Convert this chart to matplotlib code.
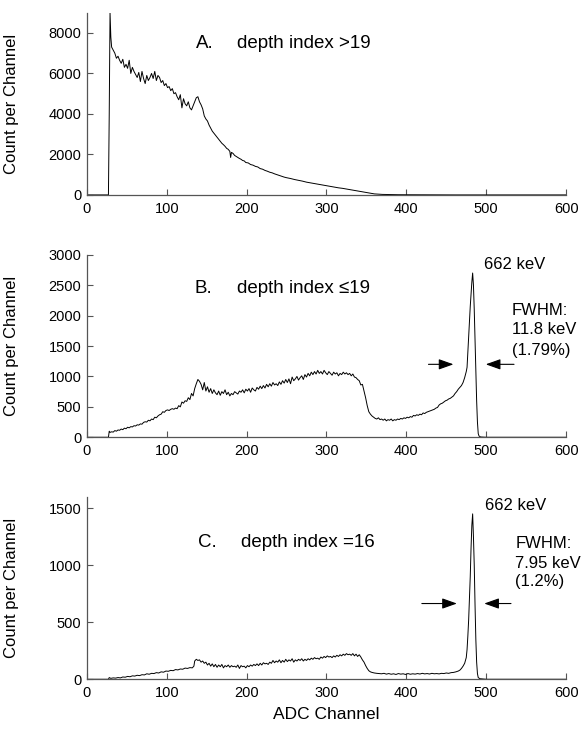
import matplotlib
matplotlib.use("Agg")
import matplotlib.pyplot as plt

plt.rcParams['font.family'] = ['Liberation Sans', 'DejaVu Sans']

# ---------------- data ----------------
ch_a = [0, 20, 27, 28, 29, 30, 31, 33, 35, 37, 39, 41, 43, 45, 47, 49, 51, 53, 55, 57, 59,
        61, 63, 65, 67, 69, 71, 73, 75, 77, 79, 81, 83, 85, 87, 89, 91, 93, 95, 97, 99,
        101, 103, 105, 107, 109, 111, 113, 115, 117, 119, 121, 123, 125, 127, 129, 131,
        133, 135, 137, 139, 141, 143, 145, 147, 149, 151, 153, 155, 157, 159, 161, 163,
        165, 167, 169, 171, 173, 175, 177, 179, 180, 181, 183, 185, 187, 189, 191, 193,
        195, 197, 199, 202, 205, 208, 211, 214, 217, 220, 223, 226, 229, 232, 235, 238,
        241, 244, 247, 250, 255, 260, 265, 270, 275, 280, 285, 290, 295, 300, 305, 310,
        315, 320, 325, 330, 335, 340, 345, 350, 355, 360, 365, 370, 380, 390, 400, 420,
        440, 460, 600]
cnt_a = [0, 0, 0, 4000, 9000, 7800, 7300, 7150, 7000, 6750, 6850, 6650, 6500, 6700, 6300,
         6450, 6250, 6650, 6000, 6300, 6100, 5950, 5800, 6050, 5600, 6100, 5750, 5500, 5900,
         5650, 5800, 6000, 5750, 6100, 5650, 5900, 5800, 5550, 5650, 5400, 5500, 5300, 5350,
         5150, 5250, 5000, 5050, 4850, 4700, 4950, 4300, 4750, 4500, 4400, 4600, 4300, 4200,
         4400, 4600, 4800, 4850, 4600, 4450, 4250, 3900, 3750, 3650, 3450, 3300, 3150, 3050,
         2950, 2850, 2750, 2650, 2550, 2480, 2400, 2300, 2250, 2150, 1850, 2100, 2050, 1950,
         1900, 1850, 1800, 1760, 1700, 1680, 1600, 1580, 1500, 1470, 1410, 1380, 1300, 1270,
         1210, 1170, 1120, 1090, 1040, 1000, 960, 920, 880, 850, 810, 760, 720, 680, 630,
         595, 555, 520, 490, 450, 420, 385, 350, 325, 290, 255, 220, 185, 150, 110, 75, 50,
         35, 25, 15, 10, 8, 5, 3, 0, 0]

ch_b = [0, 27, 28, 29, 31, 33, 35, 37, 39, 41, 43, 45, 47, 49, 51, 53, 55, 57, 59, 61, 63,
        65, 67, 69, 71, 73, 75, 77, 79, 81, 83, 85, 87, 89, 91, 93, 95, 97, 99, 101, 103,
        105, 107, 109, 111, 113, 115, 117, 119, 121, 123, 125, 127, 129, 131, 133, 135,
        137, 139, 141, 143, 145, 147, 149, 151, 153, 155, 157, 159, 161, 163, 165, 167,
        169, 171, 173, 175, 177, 179, 181, 183, 185, 187, 189, 191, 193, 195, 197, 199,
        201, 203, 205, 207, 209, 211, 213, 215, 217, 219, 221, 223, 225, 227, 229, 231,
        233, 235, 237, 239, 241, 243, 245, 247, 249, 251, 253, 255, 257, 259, 261, 263,
        265, 267, 269, 271, 273, 275, 277, 279, 281, 283, 285, 287, 289, 291, 293, 295,
        297, 299, 301, 303, 305, 307, 309, 311, 313, 315, 317, 319, 321, 323, 325, 327,
        329, 331, 333, 335, 337, 339, 341, 343, 345, 347, 349, 351, 353, 355, 357, 359,
        361, 363, 365, 367, 369, 371, 373, 375, 377, 379, 381, 383, 385, 387, 389, 391,
        393, 395, 397, 399, 401, 403, 405, 407, 409, 411, 413, 415, 417, 419, 421, 423,
        425, 427, 429, 431, 433, 435, 437, 439, 441, 443, 445, 447, 449, 451, 453, 455,
        457, 459, 461, 463, 465, 467, 469, 471, 473, 475, 476, 477, 478, 479, 480, 481,
        482, 483, 484, 485, 486, 487, 488, 489, 490, 491, 493, 500, 600]
cnt_b = [0, 0, 100, 80, 90, 85, 110, 100, 120, 115, 135, 125, 150, 140, 165, 155, 175, 170,
         190, 185, 205, 200, 220, 215, 245, 255, 250, 280, 270, 300, 290, 330, 320, 350, 370,
         380, 420, 410, 440, 450, 440, 460, 470, 460, 480, 470, 520, 500, 580, 560, 600, 590,
         650, 620, 720, 680, 800, 880, 950, 920, 870, 780, 900, 760, 830, 740, 800, 720, 780,
         730, 700, 760, 690, 750, 720, 780, 700, 740, 680, 720, 700, 750, 730, 710, 760, 740,
         780, 730, 790, 760, 800, 740, 810, 780, 760, 820, 790, 840, 800, 850, 810, 870, 830,
         880, 840, 900, 860, 880, 850, 910, 870, 930, 890, 950, 900, 960, 880, 990, 930, 960,
         1000, 940, 980, 1010, 950, 1030, 990, 1050, 1010, 1070, 1030, 1080, 1040, 1100,
         1050, 1080, 1040, 1100, 1060, 1030, 1080, 1050, 1020, 1070, 1040, 1060, 1010, 1050,
         1030, 1070, 1040, 1060, 1030, 1050, 1010, 1040, 990, 980, 950, 930, 860, 870, 760,
         650, 520, 420, 380, 350, 330, 310, 300, 320, 290, 300, 280, 300, 270, 290, 280, 300,
         270, 290, 280, 300, 290, 310, 300, 320, 310, 330, 320, 340, 330, 360, 350, 370, 360,
         380, 370, 400, 390, 410, 420, 430, 440, 450, 460, 480, 490, 530, 550, 560, 580, 600,
         610, 630, 640, 660, 680, 720, 750, 790, 820, 850, 900, 980, 1080, 1150, 1400, 1650,
         1900, 2150, 2350, 2550, 2700, 2500, 2100, 1600, 1050, 600, 250, 60, 20, 5, 0, 0]

ch_c = [0, 27, 28, 30, 33, 36, 39, 42, 45, 48, 51, 54, 57, 60, 63, 66, 69, 72, 75, 78, 81,
        84, 87, 90, 93, 96, 99, 102, 105, 108, 111, 114, 117, 120, 123, 126, 129, 132, 134,
        135, 137, 139, 141, 143, 145, 147, 149, 151, 153, 155, 157, 159, 161, 163, 165, 167,
        169, 171, 173, 175, 177, 179, 181, 183, 185, 187, 189, 191, 193, 195, 197, 199, 201,
        203, 205, 207, 209, 211, 213, 215, 217, 219, 221, 223, 225, 227, 229, 231, 233, 235,
        237, 239, 241, 243, 245, 247, 249, 251, 253, 255, 257, 259, 261, 263, 265, 267, 269,
        271, 273, 275, 277, 279, 281, 283, 285, 287, 289, 291, 293, 295, 297, 299, 301, 303,
        305, 307, 309, 311, 313, 315, 317, 319, 321, 323, 325, 327, 329, 331, 333, 335, 337,
        339, 341, 343, 345, 347, 349, 351, 353, 355, 357, 360, 363, 366, 369, 372, 375, 378,
        381, 384, 387, 390, 393, 396, 399, 402, 405, 408, 411, 414, 417, 420, 423, 426, 429,
        432, 435, 438, 441, 444, 447, 450, 453, 456, 459, 462, 465, 467, 469, 471, 473, 475,
        476, 477, 478, 479, 480, 481, 482, 483, 484, 485, 486, 487, 488, 489, 490, 492, 500,
        600]
cnt_c = [0, 0, 15, 8, 12, 10, 15, 12, 20, 18, 25, 22, 30, 28, 35, 32, 40, 38, 48, 44, 52,
         50, 58, 55, 65, 62, 72, 70, 78, 75, 85, 82, 90, 88, 98, 95, 102, 100, 115, 160, 175,
         165, 170, 150, 160, 140, 150, 125, 140, 115, 135, 110, 130, 105, 125, 110, 130, 100,
         120, 110, 125, 105, 120, 110, 115, 105, 125, 95, 120, 110, 115, 100, 120, 110, 125,
         115, 130, 120, 135, 120, 140, 125, 145, 135, 140, 130, 150, 140, 165, 145, 160, 150,
         170, 145, 165, 150, 175, 155, 170, 160, 180, 150, 170, 160, 175, 165, 180, 160, 175,
         165, 180, 170, 185, 175, 190, 180, 185, 175, 195, 185, 200, 190, 205, 195, 200, 190,
         205, 195, 210, 200, 215, 205, 220, 210, 225, 215, 220, 210, 225, 205, 220, 200, 215,
         195, 170, 150, 120, 95, 75, 65, 60, 55, 52, 50, 48, 52, 45, 50, 44, 48, 42, 50, 45,
         48, 42, 50, 44, 48, 45, 50, 46, 52, 47, 50, 46, 52, 48, 50, 47, 52, 50, 55, 52, 58,
         60, 65, 72, 80, 95, 115, 140, 190, 260, 380, 520, 700, 900, 1150, 1350, 1450, 1250,
         1000, 650, 350, 150, 50, 15, 5, 0, 0]

x_ticks = [0, 100, 200, 300, 400, 500, 600]
y_ticks_a = [0, 2000, 4000, 6000, 8000]
y_ticks_b = [0, 500, 1000, 1500, 2000, 2500, 3000]
y_ticks_c = [0, 500, 1000, 1500]

panels = [
    dict(ch=ch_a, cnt=cnt_a, ylim=9000, yt=y_ticks_a, letter="A.", title="depth index >19",
         ty=7477, lx=136.6, dx=187.6, peak=None),
    dict(ch=ch_b, cnt=cnt_b, ylim=3000, yt=y_ticks_b, letter="B.", title="depth index \u226419",
         ty=2448, lx=135.3, dx=187.6,
         peak=dict(kx=497.5, ky=2847, fx=532, fy=[2091, 1779, 1434],
                   ftxt=["FWHM:", "11.8 keV", "(1.79%)"], ay=1199,
                   la=(427.7, 459.0), ra=(534.8, 499.4))),
    dict(ch=ch_c, cnt=cnt_c, ylim=1600, yt=y_ticks_c, letter="C.", title="depth index =16",
         ty=1203, lx=139.5, dx=192.6,
         peak=dict(kx=498.7, ky=1524, fx=536.3, fy=[1189, 1014, 853],
                   ftxt=["FWHM:", "7.95 keV", "(1.2%)"], ay=664,
                   la=(419.4, 463.3), ra=(531.0, 497.5))),
]

fig = plt.figure(figsize=(5.83, 7.3), dpi=100)
rects = [[0.149, 0.733, 0.822, 0.2496],
         [0.149, 0.401, 0.822, 0.250],
         [0.149, 0.0695, 0.822, 0.250]]

spine_col = '#555555'
for rect, p in zip(rects, panels):
    ax = fig.add_axes(rect)
    ax.plot(p['ch'], p['cnt'], color='black', lw=0.7)
    ax.set_xlim(0, 600)
    ax.set_ylim(0, p['ylim'])
    ax.set_xticks(x_ticks)
    ax.set_yticks(p['yt'])
    for s in ['top', 'right']:
        ax.spines[s].set_visible(False)
    for s in ['left', 'bottom']:
        ax.spines[s].set_color(spine_col)
        ax.spines[s].set_linewidth(0.9)
    ax.tick_params(axis='both', direction='in', length=4, width=0.8, color=spine_col,
                   labelsize=10.5)
    ax.tick_params(axis='x', pad=5)
    ax.tick_params(axis='y', pad=4)
    ax.set_ylabel("Count per Channel", fontsize=12)
    ax.yaxis.set_label_coords(-0.142, 0.5)
    ax.text(p['lx'], p['ty'], p['letter'], fontsize=13.5, va='center', ha='left')
    ax.text(p['dx'], p['ty'], p['title'], fontsize=13.5, va='center', ha='left')
    pk = p['peak']
    if pk is not None:
        ax.text(pk['kx'], pk['ky'], "662 keV", fontsize=12, va='center', ha='left')
        for yy, tt in zip(pk['fy'], pk['ftxt']):
            ax.text(pk['fx'], yy, tt, fontsize=12, va='center', ha='left')
        for (x0, x1) in (pk['la'], pk['ra']):
            ax.annotate("", xy=(x1, pk['ay']), xytext=(x0, pk['ay']),
                        arrowprops=dict(arrowstyle='-|>,head_length=0.9,head_width=0.32',
                                        mutation_scale=10, lw=0.8, color='black',
                                        shrinkA=0, shrinkB=0))
    last_ax = ax

last_ax.set_xlabel("ADC Channel", fontsize=12.5, labelpad=5)

fig.savefig("out.png", dpi=100)
